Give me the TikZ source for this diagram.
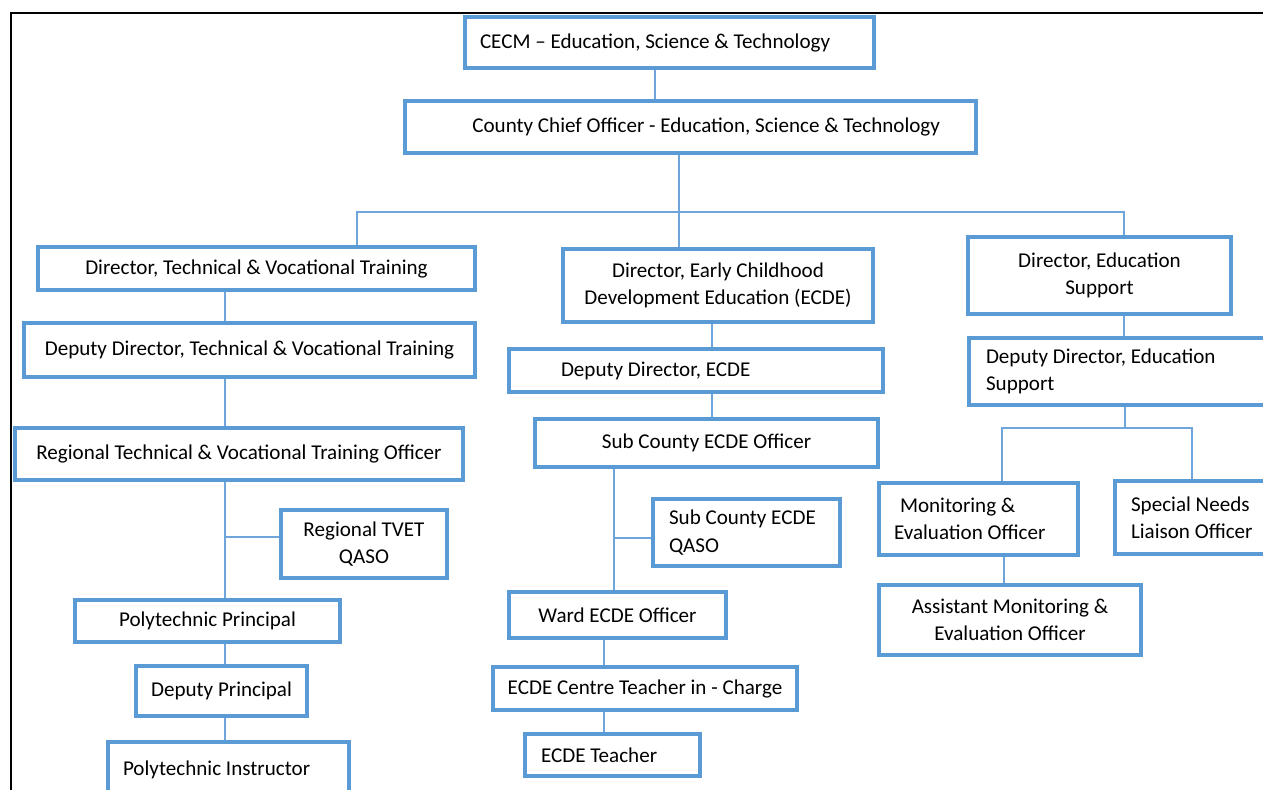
\documentclass[tikz,border=0pt]{standalone}
\usepackage{fontspec}
\setmainfont{Carlito}
\definecolor{boxblue}{RGB}{91,155,213}
\definecolor{linkblue}{RGB}{110,165,218}

\begin{document}
\begin{tikzpicture}[x=0.02cm,y=-0.02cm,
  box/.style={draw=boxblue,line width=2.2pt,inner sep=2pt,align=center,
    font=\fontsize{12}{15.5}\selectfont},
  wh/.style 2 args={minimum width=#1*0.02cm,minimum height=#2*0.02cm},
  tl/.style={align=flush left,text width=#1*0.02cm},
  tr/.style={align=flush right,text width=#1*0.02cm},
  link/.style={draw=linkblue,line width=0.8pt}]
\path[use as bounding box] (0,0) rectangle (1263,789);
\clip (0,0) rectangle (1263,789);
\draw[line width=1.1pt] (11,820) -- (11,13) -- (1290,13);

\node[box,wh={409}{51},tl=379] (cecm) at (669.5,42.5) {CECM -- Education, Science \& Technology};
\node[box,wh={571}{52},tr=499] (cco) at (690.5,127) {County Chief Officer - Education, Science \& Technology};

\node[box,wh={437}{43}] (dtvt) at (256.5,268.5) {Director, Technical \& Vocational Training};
\node[box,wh={451}{54}] (ddtvt) at (249.5,350) {Deputy Director, Technical \& Vocational Training};
\node[box,wh={448}{52}] (rtvto) at (239,454) {Regional Technical \& Vocational Training Officer};
\node[box,wh={166}{68}] (rtq) at (364,544) {Regional TVET\\QASO};
\node[box,wh={265}{42}] (polyp) at (207.5,621) {Polytechnic Principal};
\node[box,wh={171}{50}] (depp) at (221.5,691) {Deputy Principal};
\node[box,wh={241}{56},tl=211] (polyi) at (228.5,770) {Polytechnic Instructor};

\node[box,wh={310}{73}] (decde) at (718,285.5) {Director, Early Childhood\\Development Education (ECDE)};
\node[box,wh={374}{43},tl=270] (ddecde) at (696,370.5) {Deputy Director, ECDE};
\node[box,wh={343}{48}] (scecde) at (706.5,443) {Sub County ECDE Officer};
\node[box,wh={187}{67},tl=155] (scq) at (746.5,532.5) {Sub County ECDE\\QASO};
\node[box,wh={217}{46}] (wecde) at (617.5,615) {Ward ECDE Officer};
\node[box,wh={304}{43}] (ecdect) at (645,688.5) {ECDE Centre Teacher in - Charge};
\node[box,wh={175}{42},tl=143] (ecdet) at (612.5,755) {ECDE Teacher};

\node[box,wh={263}{77}] (des) at (1099.5,275.5) {Director, Education\\Support};
\node[box,wh={319}{67},tl=285] (ddes) at (1128.5,371.5) {Deputy Director, Education\\Support};
\node[box,wh={199}{72},tl=169] (meo) at (978.5,519) {\hspace*{0.12cm}Monitoring \&\\Evaluation Officer};
\node[box,wh={173}{73},tl=141] (snlo) at (1201.5,517.5) {Special Needs\\Liaison Officer};
\node[box,wh={262}{70}] (ameo) at (1010,620) {Assistant Monitoring \&\\Evaluation Officer};

\coordinate (k1) at (655,0);
\coordinate (busL) at (357,212);
\coordinate (busM) at (679,212);
\coordinate (busR) at (1124,212);
\coordinate (tv) at (225,537);
\coordinate (e1) at (712,0);
\coordinate (e2) at (614,538);
\coordinate (e3) at (604,0);
\coordinate (s1) at (1124,0);
\coordinate (s2) at (1125,428);
\coordinate (sL) at (1002,428);
\coordinate (sR) at (1192,428);
\coordinate (s3) at (1004,0);

\draw[link] (cecm.south -| k1) -- (cco.north -| k1);
\draw[link] (cco.south -| busM) -- (busM) -- (decde.north -| busM);
\draw[link] (dtvt.north -| busL) -- (busL) -- (busR) -- (des.north -| busR);

\draw[link] (dtvt.south -| tv) -- (ddtvt.north -| tv);
\draw[link] (ddtvt.south -| tv) -- (rtvto.north -| tv);
\draw[link] (rtvto.south -| tv) -- (polyp.north -| tv);
\draw[link] (tv) -- (tv -| rtq.west);
\draw[link] (polyp.south -| tv) -- (depp.north -| tv);
\draw[link] (depp.south -| tv) -- (polyi.north -| tv);

\draw[link] (decde.south -| e1) -- (ddecde.north -| e1);
\draw[link] (ddecde.south -| e1) -- (scecde.north -| e1);
\draw[link] (scecde.south -| e2) -- (wecde.north -| e2);
\draw[link] (e2) -- (e2 -| scq.west);
\draw[link] (wecde.south -| e3) -- (ecdect.north -| e3);
\draw[link] (ecdect.south -| e3) -- (ecdet.north -| e3);

\draw[link] (des.south -| s1) -- (ddes.north -| s1);
\draw[link] (ddes.south -| s2) -- (s2);
\draw[link] (meo.north -| sL) -- (sL) -- (sR) -- (snlo.north -| sR);
\draw[link] (meo.south -| s3) -- (ameo.north -| s3);
\end{tikzpicture}
\end{document}
